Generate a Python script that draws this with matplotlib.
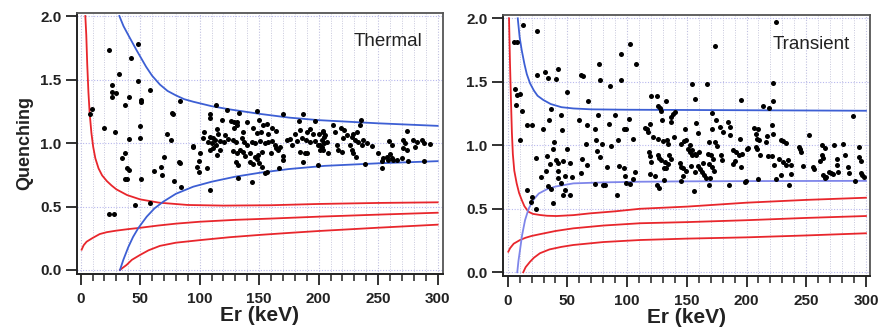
import matplotlib
matplotlib.use("Agg")
import matplotlib.pyplot as plt
from matplotlib.ticker import MultipleLocator

plt.rcParams['font.family'] = ['Liberation Sans', 'DejaVu Sans']

# ---------------- Thermal panel data ----------------
thermal_x = [
    24.0, 48.4, 42.3, 32.4, 48.2, 26.0, 58.5, 26.0, 29.9, 26.0, 40.3, 50.9, 51.0, 37.0, 83.2, 9.5, 8.1,
    77.0, 78.0, 19.3, 28.6, 49.6, 72.3, 40.3, 49.6, 75.9, 94.0, 94.6, 100.5, 37.0, 34.7, 69.7, 82.6,
    83.6, 99.4, 39.0, 40.5, 67.5, 61.6, 97.7, 99.4, 68.3, 37.5, 38.8, 50.9, 78.7, 84.0, 45.9, 58.5,
    23.5, 27.7,
    113.4, 108.7, 108.7, 122.7, 132.7, 147.9, 170.3, 186.5, 183.1, 197.1, 118.5, 126.3, 129.1, 131.1,
    131.6, 139.5, 150.1, 153.5, 156.3, 160.5, 103.6, 114.8, 115.7, 121.3, 129.1, 136.7, 145.1, 147.9,
    151.2, 157.7, 164.1, 175.9, 180.1, 184.3, 192.6, 190.4, 195.5, 200.5, 203.3, 204.4, 108.7, 110.9,
    112.9, 107.3, 110.1, 113.7, 117.1, 120.4, 124.1, 128.3, 130.5, 135.3, 137.2, 139.5, 143.6, 146.5,
    150.7, 154.9, 157.7, 160.5, 163.3, 167.5, 173.1, 177.3, 181.4, 185.7, 189.3, 192.6, 196.8, 199.6,
    202.4, 204.4, 102.5, 108.7, 111.5, 117.1, 114.3, 128.3, 131.1, 133.9, 136.7, 138.0, 142.3, 146.5,
    149.3, 147.9, 152.0, 159.6, 164.1, 166.0, 170.3, 170.3, 142.3, 144.5, 150.1, 152.0, 130.5, 132.5,
    156.3, 154.9, 166.9, 184.3, 188.5, 190.4, 187.1, 199.6, 201.0, 106.4, 132.5, 143.7, 108.7,
    235.5, 234.7, 212.3, 218.5, 221.3, 213.7, 203.9, 205.3, 229.1, 231.9, 227.7, 223.5, 273.9, 220.7,
    230.5, 233.3, 237.5, 236.1, 240.3, 244.5, 202.5, 201.1, 206.7, 215.1, 216.5, 219.3, 208.1, 203.9,
    226.3, 227.7, 229.1, 231.3, 259.3, 261.3, 271.1, 272.5, 271.1, 273.9, 279.5, 282.3, 280.9, 286.5,
    288.5, 293.5, 250.1, 252.9, 253.7, 257.1, 259.9, 261.3, 262.7, 258.5, 265.5, 269.7, 275.3, 252.9,
    238.9, 288.5,
]
thermal_y = [
    1.73, 1.78, 1.67, 1.54, 1.49, 1.46, 1.42, 1.40, 1.39, 1.36, 1.36, 1.34, 1.32, 1.30, 1.33, 1.27, 1.23,
    1.24, 1.23, 1.12, 1.09, 1.13, 1.07, 1.03, 1.04, 1.02, 0.97, 0.98, 0.92, 0.92, 0.88, 0.89, 0.85,
    0.84, 0.86, 0.80, 0.79, 0.81, 0.78, 0.81, 0.77, 0.75, 0.72, 0.72, 0.72, 0.70, 0.65, 0.51, 0.525,
    0.44, 0.44,
    1.299, 1.230, 1.199, 1.257, 1.238, 1.249, 1.225, 1.225, 1.173, 1.173, 1.181, 1.173, 1.162, 1.168,
    1.141, 1.162, 1.178, 1.141, 1.147, 1.120, 1.083, 1.107, 1.073, 1.062, 1.115, 1.083, 1.115, 1.076,
    1.089, 1.068, 1.094, 1.031, 1.073, 1.102, 1.110, 1.083, 1.073, 1.068, 1.089, 1.049, 1.049, 1.036,
    1.023, 1.010, 0.997, 0.984, 1.015, 1.010, 1.031, 1.023, 1.005, 1.036, 1.005, 0.984, 1.010, 0.997,
    1.015, 0.997, 1.010, 1.015, 0.984, 0.971, 1.023, 0.984, 1.015, 1.036, 1.023, 1.005, 1.015, 0.984,
    0.971, 0.997, 1.036, 0.944, 0.958, 0.944, 0.905, 0.937, 0.918, 0.944, 0.926, 0.900, 0.918, 0.892,
    0.905, 0.874, 0.931, 0.918, 0.958, 0.944, 0.900, 0.866, 0.847, 0.832, 0.839, 0.813, 0.852, 0.826,
    0.774, 0.761, 0.805, 0.931, 0.918, 0.918, 0.852, 0.826, 0.944, 0.800, 0.721, 0.695, 0.629,
    1.183, 1.141, 1.141, 1.115, 1.102, 1.089, 1.094, 1.063, 1.068, 1.089, 1.049, 1.063, 1.094, 1.036,
    1.023, 1.010, 1.023, 0.984, 0.997, 0.979, 1.023, 0.984, 1.005, 0.984, 0.944, 0.926, 0.918, 0.944,
    0.984, 0.944, 0.918, 0.892, 1.015, 0.984, 1.023, 0.997, 0.958, 0.944, 1.023, 1.010, 0.971, 1.023,
    0.997, 0.989, 0.918, 0.858, 0.879, 0.892, 0.910, 0.884, 0.866, 0.866, 0.866, 0.879, 0.858, 0.800,
    0.832, 0.858,
]

# Thermal curves
th_red1_x = [3.9, 4.7, 5.5, 6.5, 7.5, 9, 10.5, 12.3, 15, 18, 22, 26, 30, 39, 50, 66, 90, 120, 160, 200,
             250, 300]
th_red1_y = [2.0, 1.85, 1.62, 1.40, 1.24, 1.08, 0.97, 0.88, 0.80, 0.745, 0.70, 0.665, 0.635, 0.59, 0.556,
             0.53, 0.512, 0.507, 0.51, 0.52, 0.528, 0.533]
th_red2_x = [0.8, 2.5, 5, 10, 16, 22, 30, 40, 48, 65, 80, 100, 130, 160, 200, 250, 300]
th_red2_y = [0.16, 0.195, 0.223, 0.252, 0.283, 0.298, 0.31, 0.322, 0.33, 0.35, 0.365, 0.38, 0.395, 0.405,
             0.42, 0.436, 0.451]
th_red3_x = [33, 35, 38.6, 43, 49.8, 57, 66.6, 80, 100, 125, 150, 175, 200, 250, 300]
th_red3_y = [0.0, 0.015, 0.04, 0.08, 0.118, 0.155, 0.19, 0.215, 0.235, 0.258, 0.276, 0.292, 0.307, 0.333, 0.357]
th_blue1_x = [32.5, 36, 40, 47, 55, 60, 66.6, 73, 80, 87, 94.6, 110, 125, 150, 175, 200, 250, 300]
th_blue1_y = [2.0, 1.92, 1.85, 1.73, 1.60, 1.53, 1.46, 1.41, 1.375, 1.345, 1.325, 1.29, 1.265, 1.23, 1.2,
              1.18, 1.155, 1.135]
th_blue2_x = [33, 35.8, 40, 44, 48.4, 55.5, 62, 69.4, 80, 94.6, 110, 130, 150.7, 175, 205, 250, 300]
th_blue2_y = [0.0, 0.079, 0.18, 0.26, 0.33, 0.42, 0.485, 0.538, 0.6, 0.656, 0.695, 0.735, 0.766, 0.795,
              0.82, 0.84, 0.857]

# ---------------- Transient panel data ----------------
transient_x = [
    12.5, 24.2, 5.6, 7.5, 94.6, 76.7, 42.4, 24.8, 31.2, 34.0, 40.4, 61.4, 63.3, 77.3, 85.7, 94.6, 49.4,
    6.1, 8.1, 10.3, 6.9, 11.7, 66.9, 36.0, 44.3, 34.9, 59.4, 75.3, 89.8, 15.9, 20.1, 29.8, 45.7, 66.7,
    73.1, 84.8, 97.4, 10.3, 39.0, 49.4, 65.6, 73.7, 78.7, 86.5, 92.6, 75.0, 37.6, 23.7, 33.2, 40.4,
    42.4, 35.4, 46.6, 52.2, 61.9, 66.7, 77.3, 83.4, 93.5, 32.1, 42.4, 61.1, 27.6, 42.4, 48.0, 53.6,
    44.3, 33.5, 36.0, 73.1, 79.5, 81.5, 91.2, 46.0, 52.2, 47.9, 15.9, 20.1, 19.2, 37.6, 23.7,
    102.6, 107.7, 173.3, 154.6, 166.8, 156.5, 195.6, 120.2, 125.2, 132.2, 125.8, 127.8, 128.6, 138.4,
    137.0, 139.8, 171.3, 101.5, 99.3, 119.4, 114.6, 116.6, 129.4, 137.0, 157.3, 159.3, 148.1, 171.3,
    174.6, 177.4, 180.2, 184.4, 185.8, 186.4, 194.2, 104.9, 117.4, 121.6, 125.8, 130.0, 133.3, 134.2,
    138.9, 145.3, 147.3, 149.5, 152.3, 151.2, 154.0, 153.0, 156.5, 154.5, 160.1, 157.9, 168.5, 173.3,
    175.2, 167.7, 170.5, 171.9, 178.8, 179.7, 188.6, 191.4, 194.0, 190.0, 189.0, 195.0, 196.4, 200.3,
    118.3, 118.8, 120.2, 125.8, 126.6, 128.6, 131.4, 132.8, 134.2, 130.5, 135.0, 137.0, 143.9, 145.3,
    146.7, 149.5, 153.5, 156.5, 159.3, 161.2, 162.9, 164.0, 165.7, 163.5, 168.5, 171.3, 172.4, 169.6,
    168.5, 146.7, 97.1, 97.9, 106.3, 104.9, 118.8, 123.0, 130.5, 145.3, 125.0, 126.6, 155.7, 185.3,
    198.4, 102.1, 98.7,
    224.6, 222.4, 222.4, 214.0, 219.0, 288.8, 206.5, 209.3, 221.3, 216.8, 221.8, 207.9, 208.4, 210.7,
    216.2, 228.8, 230.8, 233.0, 252.5, 200.9, 207.9, 208.4, 243.6, 244.7, 245.5, 263.1, 265.9, 273.5,
    281.0, 294.4, 211.2, 217.6, 221.3, 226.9, 230.8, 234.4, 237.2, 263.1, 264.2, 275.4, 282.7, 293.8,
    295.8, 223.2, 233.0, 247.0, 255.3, 256.7, 261.5, 275.4, 276.3, 284.6, 286.0, 269.0, 270.5, 272.5,
    264.2, 266.5, 265.4, 296.0, 298.0, 297.0, 228.8, 237.2, 209.3, 224.6, 235.2, 291.0, 199.5,
]
transient_y = [
    1.945, 1.898, 1.814, 1.814, 1.722, 1.638, 1.599, 1.557, 1.578, 1.530, 1.525, 1.557, 1.546, 1.512,
    1.467, 1.512, 1.420, 1.441, 1.394, 1.407, 1.320, 1.268, 1.347, 1.284, 1.237, 1.197, 1.202, 1.242,
    1.242, 1.163, 1.163, 1.126, 1.118, 1.163, 1.131, 1.171, 1.131, 1.040, 1.026, 0.974, 1.013, 1.040,
    1.013, 0.995, 1.040, 0.953, 0.974, 0.900, 0.916, 0.882, 0.864, 0.856, 0.874, 0.864, 0.890, 0.848,
    0.908, 0.829, 0.837, 0.801, 0.795, 0.785, 0.748, 0.743, 0.759, 0.753, 0.706, 0.680, 0.659, 0.696,
    0.690, 0.690, 0.606, 0.612, 0.612, 0.646, 0.646, 0.593, 0.554, 0.549, 0.501,
    1.795, 1.643, 1.782, 1.480, 1.480, 1.362, 1.354, 1.389, 1.389, 1.347, 1.310, 1.290, 1.270, 1.250,
    1.220, 1.263, 1.257, 1.205, 1.131, 1.171, 1.137, 1.131, 1.197, 1.184, 1.179, 1.100, 1.131, 1.131,
    1.197, 1.144, 1.105, 1.184, 1.144, 1.079, 1.047, 1.053, 1.105, 1.066, 1.053, 1.030, 1.040, 1.010,
    1.066, 1.010, 1.030, 1.040, 1.005, 0.974, 0.960, 0.945, 0.935, 0.925, 0.948, 0.921, 1.026, 1.026,
    0.995, 0.934, 0.927, 0.895, 0.921, 0.882, 0.961, 0.948, 0.920, 0.880, 0.850, 0.830, 0.934, 0.974,
    0.948, 0.916, 0.869, 0.927, 0.900, 0.882, 0.870, 0.820, 0.850, 0.820, 0.921, 0.895, 0.860, 0.830,
    0.820, 0.800, 0.840, 0.790, 0.835, 0.815, 0.790, 0.765, 0.740, 0.860, 0.850, 0.830, 0.800, 0.740,
    0.690, 0.759, 0.820, 0.760, 0.790, 0.738, 0.777, 0.759, 0.724, 0.716, 0.685, 0.667, 0.638, 0.690,
    0.711, 0.698, 0.706,
    1.971, 1.494, 1.347, 1.310, 1.294, 1.231, 1.137, 1.131, 1.158, 1.074, 1.092, 1.092, 1.053, 1.040,
    1.026, 1.040, 1.030, 1.020, 1.079, 0.980, 0.990, 0.970, 0.987, 0.969, 0.948, 0.999, 0.979, 1.005,
    1.013, 0.987, 0.921, 0.916, 0.916, 0.895, 0.869, 0.882, 0.843, 0.921, 0.900, 0.895, 0.921, 0.908,
    0.874, 0.843, 0.848, 0.837, 0.829, 0.811, 0.874, 0.843, 0.790, 0.829, 0.784, 0.790, 0.780, 0.775,
    0.764, 0.751, 0.743, 0.780, 0.750, 0.765, 0.764, 0.777, 0.738, 0.732, 0.690, 0.719, 0.717,
]

# Transient curves
tr_red1_x = [1.1, 1.9, 2.8, 3.5, 4.3, 5.5, 7.5, 9.5, 11.7, 14, 17.3, 21, 27, 33, 41, 55, 69, 90, 110.8,
             150, 200, 250, 300]
tr_red1_y = [2.0, 1.65, 1.33, 1.1, 0.93, 0.80, 0.70, 0.625, 0.57, 0.52, 0.477, 0.46, 0.451, 0.445, 0.443,
             0.45, 0.464, 0.48, 0.50, 0.517, 0.548, 0.57, 0.587]
tr_red2_x = [0.5, 2, 5, 10.3, 15, 20, 27, 40, 55, 80, 110.8, 150, 200, 250, 300]
tr_red2_y = [0.162, 0.19, 0.225, 0.254, 0.272, 0.286, 0.30, 0.325, 0.346, 0.368, 0.386, 0.395, 0.41, 0.428, 0.443]
tr_red3_x = [13, 15, 18.7, 22, 27, 35, 45, 55, 80, 110.8, 150, 200, 250, 300]
tr_red3_y = [0.0, 0.04, 0.083, 0.115, 0.15, 0.18, 0.2, 0.215, 0.238, 0.254, 0.265, 0.275, 0.29, 0.307]
tr_blue1_x = [8.4, 10, 11.7, 14, 16, 18.7, 22, 25, 29.8, 36, 45, 55, 70, 100, 150, 200, 250, 300]
tr_blue1_y = [2.0, 1.85, 1.75, 1.64, 1.56, 1.488, 1.43, 1.39, 1.357, 1.325, 1.30, 1.29, 1.283, 1.28,
              1.278, 1.276, 1.274, 1.272]
tr_blue2_x = [8, 9, 10.3, 12, 14.5, 17.5, 21.4, 26, 32.6, 40, 55, 80, 110.8, 150, 200, 250, 300]
tr_blue2_y = [0.0, 0.09, 0.175, 0.29, 0.41, 0.50, 0.57, 0.62, 0.653, 0.675, 0.70, 0.708, 0.713, 0.716,
              0.718, 0.719, 0.72]

x_ticks = [0, 50, 100, 150, 200, 250, 300]
y_ticks = [0.0, 0.5, 1.0, 1.5, 2.0]
y_tick_labels = ['0.0', '0.5', '1.0', '1.5', '2.0']

RED = '#e8262c'
BLUE = '#3d5fd4'
LBLUE = '#7f86ea'
INK = '#222222'

fig = plt.figure(figsize=(8.8, 3.34), dpi=100)
axL = fig.add_axes([77 / 880, (334 - 274) / 334, 366 / 880, 261.3 / 334])
axR = fig.add_axes([502.7 / 880, (334 - 275.7) / 334, 367.3 / 880, 260.7 / 334])


def style(ax, xlim, ylim):
    ax.set_xlim(*xlim)
    ax.set_ylim(*ylim)
    ax.set_xticks(x_ticks)
    ax.set_xticklabels([str(v) for v in x_ticks])
    ax.xaxis.set_minor_locator(MultipleLocator(10))
    ax.set_yticks(y_ticks)
    ax.set_yticklabels(y_tick_labels)
    ax.grid(which='minor', axis='x', color='#c8c8dc', linestyle=(0, (1, 1.5)), linewidth=0.7)
    ax.grid(which='major', axis='x', color='#c0c0e0', linestyle=(0, (1, 1.5)), linewidth=0.8)
    ax.grid(which='major', axis='y', color='#b8b8ee', linestyle=(0, (1, 1.5)), linewidth=0.8)
    ax.set_axisbelow(True)
    ax.tick_params(axis='both', which='major', direction='out', length=8, width=1.3,
                   labelsize=11, color=INK)
    ax.tick_params(axis='x', which='major', pad=5)
    ax.tick_params(axis='y', which='major', pad=3)
    ax.tick_params(axis='x', which='minor', direction='out', length=5, width=1.1, color=INK)
    ax.tick_params(axis='y', which='minor', left=False)
    for lab in ax.get_xticklabels() + ax.get_yticklabels():
        lab.set_fontweight('bold')
        lab.set_color(INK)
    for side in ['left', 'bottom']:
        ax.spines[side].set_color(INK)
        ax.spines[side].set_linewidth(1.4)
    for side in ['top', 'right']:
        ax.spines[side].set_color('#555555')
        ax.spines[side].set_linewidth(1.3)
    ax.set_xlabel('Er (keV)', fontsize=15, fontweight='bold', labelpad=0, color=INK)


style(axL, (-3.1, 304.5), (-0.0315, 2.026))
style(axR, (-4.2, 303.4), (-0.027, 2.026))

axL.set_ylabel('Quenching', fontsize=13, fontweight='bold', labelpad=5, color=INK)

lw = 1.3
for ax, curves in [
    (axL, [(th_red1_x, th_red1_y, RED), (th_red2_x, th_red2_y, RED), (th_red3_x, th_red3_y, RED),
           (th_blue1_x, th_blue1_y, BLUE), (th_blue2_x, th_blue2_y, BLUE)]),
    (axR, [(tr_red1_x, tr_red1_y, RED), (tr_red2_x, tr_red2_y, RED), (tr_red3_x, tr_red3_y, RED),
           (tr_blue1_x, tr_blue1_y, BLUE), (tr_blue2_x, tr_blue2_y, LBLUE)]),
]:
    for cx, cy, col in curves:
        ax.plot(cx, cy, color=col, linewidth=lw, zorder=3, clip_on=True)

axL.scatter(thermal_x, thermal_y, s=13, color='black', zorder=4, linewidths=0)
axR.scatter(transient_x, transient_y, s=13, color='black', zorder=4, linewidths=0)

axL.text(0.945, 0.872, 'Thermal', transform=axL.transAxes, ha='right', va='baseline',
         fontsize=13.5, color=INK)
axR.text(0.9455, 0.871, 'Transient', transform=axR.transAxes, ha='right', va='baseline',
         fontsize=13.5, color=INK)

fig.savefig('out.png', dpi=100)
